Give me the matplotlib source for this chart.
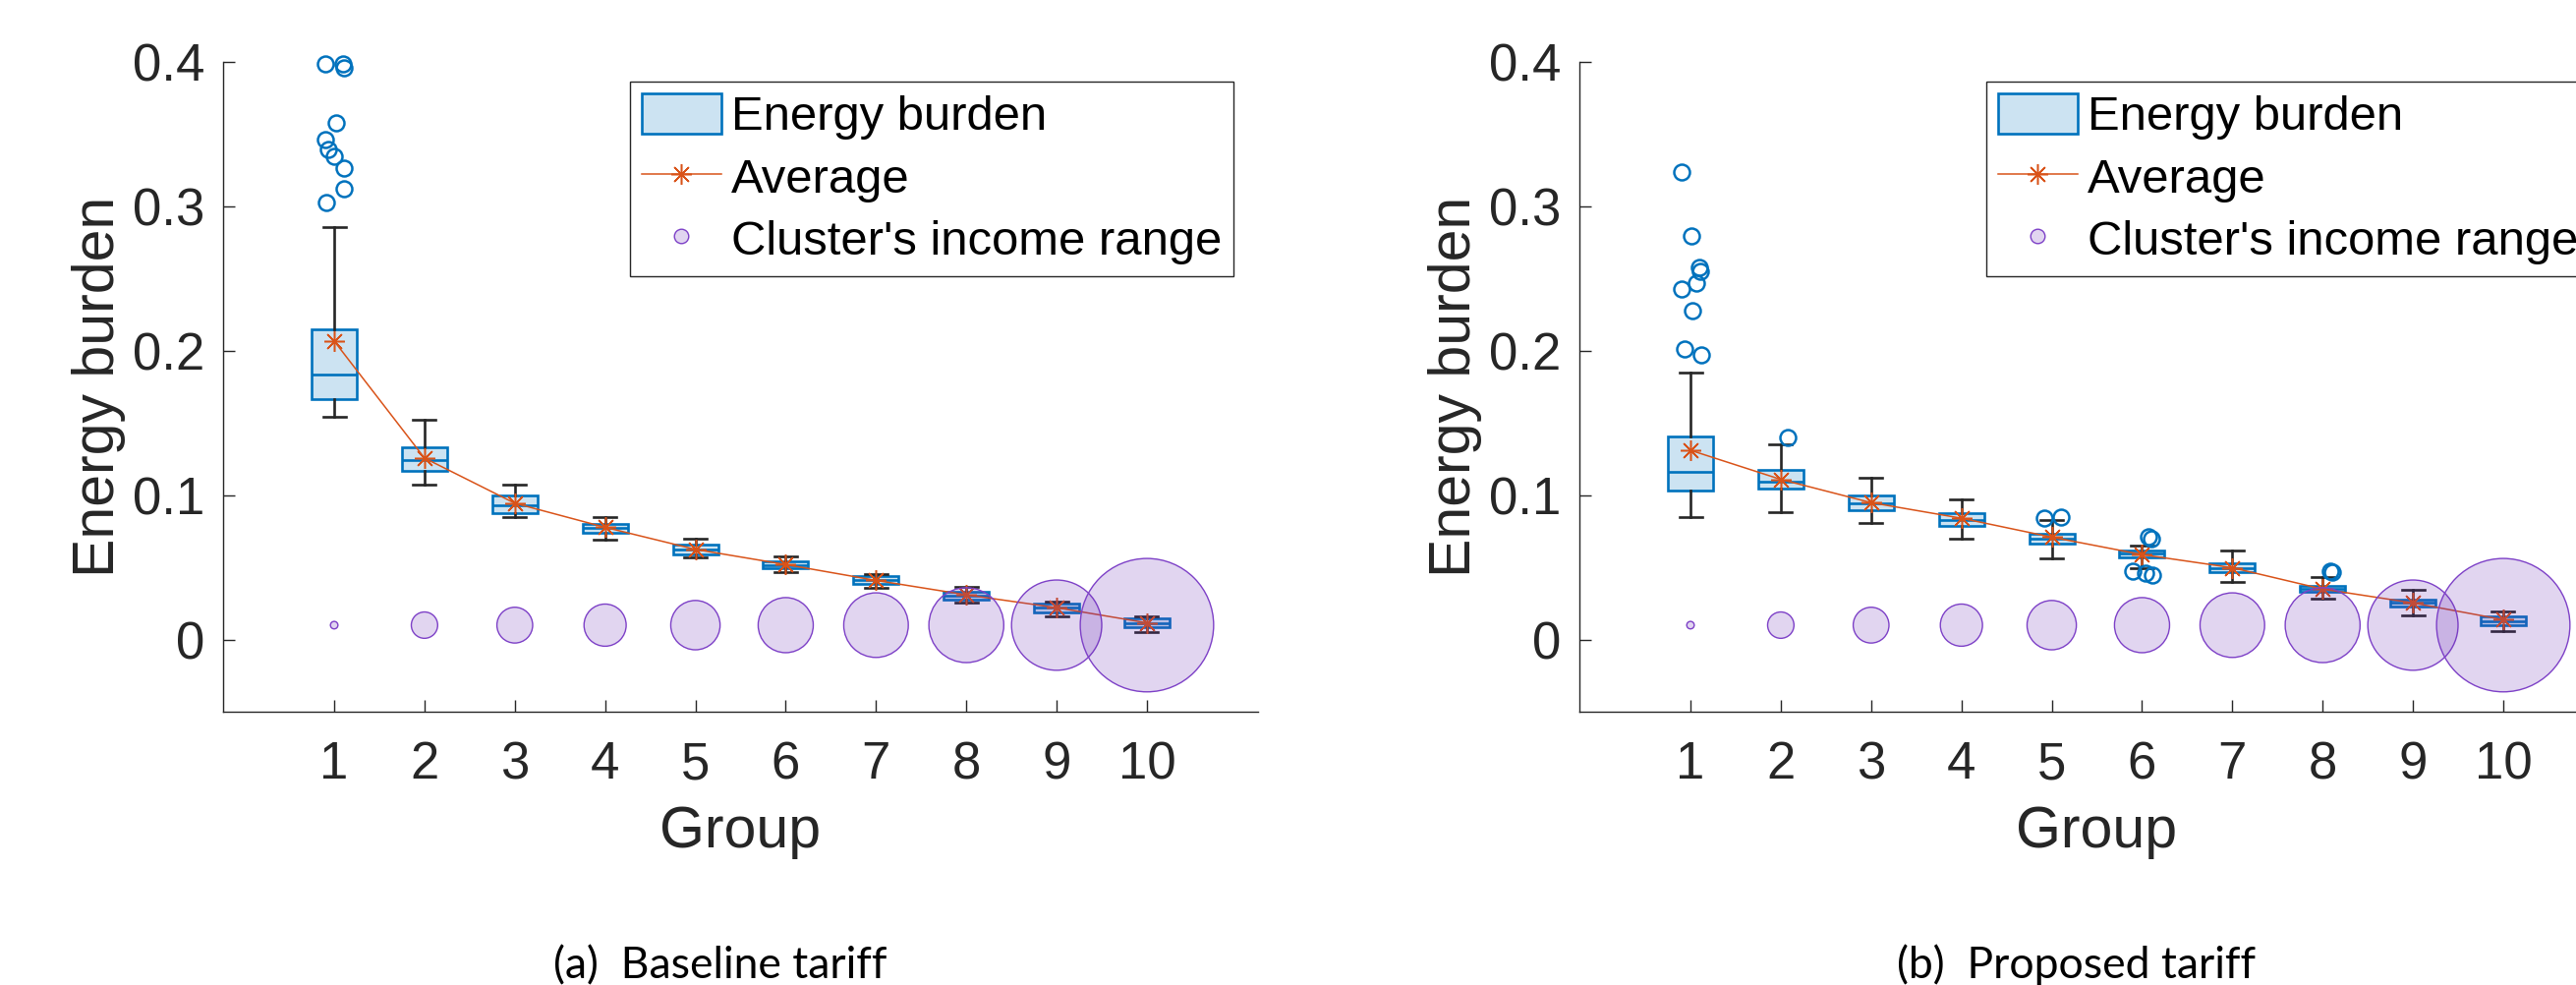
import matplotlib
matplotlib.use("Agg")
import matplotlib.pyplot as plt
from matplotlib.patches import Patch
from matplotlib.lines import Line2D
import numpy as np

plt.rcParams['font.family'] = ['Liberation Sans', 'DejaVu Sans']

# ---------------- data ----------------
groups = [1, 2, 3, 4, 5, 6, 7, 8, 9, 10]
ytick_vals = [0, 0.1, 0.2, 0.3, 0.4]
ytick_labels = ['0', '0.1', '0.2', '0.3', '0.4']

# (a) Baseline tariff
q1_a = [0.1665, 0.1167, 0.0875, 0.0741, 0.0590, 0.0495, 0.0385, 0.0276, 0.0191, 0.0085]
med_a = [0.1835, 0.1243, 0.0930, 0.0772, 0.0625, 0.0518, 0.0410, 0.0305, 0.0219, 0.0114]
q3_a = [0.2151, 0.1334, 0.0997, 0.0802, 0.0656, 0.0540, 0.0437, 0.0332, 0.0248, 0.0144]
wlo_a = [0.1544, 0.1076, 0.0848, 0.0693, 0.0571, 0.0465, 0.0357, 0.0257, 0.0162, 0.0055]
whi_a = [0.2860, 0.1522, 0.1076, 0.0851, 0.0700, 0.0575, 0.0457, 0.0362, 0.0266, 0.0158]
mean_a = [0.2069, 0.1258, 0.0945, 0.0778, 0.0625, 0.0520, 0.0410, 0.0310, 0.0221, 0.0116]
out_grp_a = [1, 1, 1, 1, 1, 1, 1, 1, 1, 1]
out_val_a = [0.3990, 0.3990, 0.3965, 0.3580, 0.3468, 0.3398, 0.3352, 0.3270, 0.3127, 0.3027]
out_jit_a = [-0.10, 0.10, 0.11, 0.02, -0.10, -0.07, 0.00, 0.11, 0.11, -0.09]

# (b) Proposed tariff
q1_b = [0.1035, 0.1046, 0.0895, 0.0790, 0.0667, 0.0567, 0.0466, 0.0328, 0.0228, 0.0097]
med_b = [0.1159, 0.1097, 0.0944, 0.0828, 0.0702, 0.0594, 0.0498, 0.0350, 0.0254, 0.0128]
q3_b = [0.1406, 0.1177, 0.0997, 0.0876, 0.0734, 0.0614, 0.0530, 0.0373, 0.0280, 0.0160]
wlo_b = [0.0849, 0.0882, 0.0806, 0.0702, 0.0565, 0.0495, 0.0396, 0.0282, 0.0171, 0.0060]
whi_b = [0.1850, 0.1355, 0.1124, 0.0973, 0.0831, 0.0653, 0.0618, 0.0432, 0.0346, 0.0196]
mean_b = [0.1312, 0.1110, 0.0949, 0.0841, 0.0710, 0.0589, 0.0498, 0.0350, 0.0254, 0.0138]
out_grp_b = [1, 1, 1, 1, 1, 1, 1, 1, 1, 2, 5, 5, 6, 6, 6, 6, 6, 8, 8]
out_val_b = [0.3242, 0.2800, 0.2578, 0.2551, 0.2468, 0.2433, 0.2282, 0.2011, 0.1973,
             0.1400, 0.0844, 0.0849, 0.0715, 0.0696, 0.0477, 0.0459, 0.0450, 0.0477, 0.0468]
out_jit_b = [-0.10, 0.01, 0.10, 0.11, 0.07, -0.10, 0.025, -0.07, 0.115,
             0.08, -0.08, 0.10, 0.07, 0.10, -0.10, 0.04, 0.12, 0.08, 0.11]

# Cluster's income range (bubble size, relative units), bubbles drawn at y = 0.01
income_range = [0.0, 3.6, 6.9, 9.7, 13.4, 16.8, 23.2, 31.3, 45.6, 100.0]
bubble_y = [0.01] * 10

panels = [
    dict(q1=q1_a, med=med_a, q3=q3_a, wlo=wlo_a, whi=whi_a, mean=mean_a,
         og=out_grp_a, ov=out_val_a, oj=out_jit_a, caption='(a)  Baseline tariff'),
    dict(q1=q1_b, med=med_b, q3=q3_b, wlo=wlo_b, whi=whi_b, mean=mean_b,
         og=out_grp_b, ov=out_val_b, oj=out_jit_b, caption='(b)  Proposed tariff'),
]

# ---------------- style ----------------
W, H = 2621, 1002
BOX_EDGE = '#0072BD'
BOX_FACE = '#CCE3F2'
WHISK = '#262626'
MEAN_C = '#D95319'
BUB_FACE = (0.41, 0.175, 0.705, 0.2)
BUB_EDGE = (0.49, 0.25, 0.78, 1.0)
AX_C = '#262626'
DMIN_PT, DMAX_PT = 5.5, 97.7

fig = plt.figure(figsize=(W / 100, H / 100), dpi=100)

ax_left_px = [227, 1607]
ax_top, ax_w, ax_h = 63.5, 1053, 660.5
caption_x = [733, 2113]

ir = np.array(income_range)
area = DMIN_PT ** 2 + (ir - ir.min()) / (ir.max() - ir.min()) * (DMAX_PT ** 2 - DMIN_PT ** 2)

for p, lpx, cx in zip(panels, ax_left_px, caption_x):
    ax = fig.add_axes([lpx / W, 1 - (ax_top + ax_h) / H, ax_w / W, ax_h / H])

    stats = []
    for i in range(len(groups)):
        stats.append(dict(med=p['med'][i], q1=p['q1'][i], q3=p['q3'][i],
                          whislo=p['wlo'][i], whishi=p['whi'][i], fliers=[]))
    ax.bxp(stats, positions=groups, widths=0.5, capwidths=0.25, patch_artist=True,
           showfliers=False, manage_ticks=False,
           boxprops=dict(facecolor=BOX_FACE, edgecolor=BOX_EDGE, linewidth=1.9),
           medianprops=dict(color=BOX_EDGE, linewidth=1.9),
           whiskerprops=dict(color=WHISK, linewidth=1.9),
           capprops=dict(color=WHISK, linewidth=1.9))

    ox = np.array(p['og']) + np.array(p['oj'])
    ax.plot(ox, p['ov'], ls='none', marker='o', ms=11.5, mfc='none', mec=BOX_EDGE,
            mew=1.8, clip_on=False, zorder=3)

    ax.plot(groups, p['mean'], color=MEAN_C, lw=1.1, marker=(8, 2, 0), ms=15,
            mew=1.1, zorder=4)

    ax.scatter(groups, bubble_y, s=area, facecolors=[BUB_FACE], edgecolors=[BUB_EDGE],
               linewidths=1.0, zorder=5)

    ax.set_xlim(-0.23, 11.23)
    ax.set_ylim(-0.05, 0.4)
    ax.set_xticks(groups)
    ax.set_xticklabels([str(g) for g in groups])
    ax.set_yticks(ytick_vals)
    ax.set_yticklabels(ytick_labels)
    for s in ['top', 'right']:
        ax.spines[s].set_visible(False)
    for s in ['left', 'bottom']:
        ax.spines[s].set_color(AX_C)
        ax.spines[s].set_linewidth(1.0)
    ax.tick_params(axis='both', direction='in', length=8.5, width=1.0, colors=AX_C,
                   labelsize=38)
    ax.tick_params(axis='x', pad=21)
    ax.tick_params(axis='y', pad=13.5)

    ax.set_xlabel('Group', fontsize=42.5, color=AX_C)
    ax.xaxis.set_label_coords(0.5, -(862 - (ax_top + ax_h)) / ax_h)
    ax.xaxis.label.set_va('baseline')
    ax.set_ylabel('Energy burden', fontsize=42.5, color=AX_C)
    ax.yaxis.set_label_coords((116 - 227) / ax_w, 0.5)
    ax.yaxis.label.set_va('baseline')

    handles = [Patch(facecolor=BOX_FACE, edgecolor=BOX_EDGE, linewidth=1.9),
               Line2D([], [], color=MEAN_C, lw=1.1, marker=(8, 2, 0), ms=15, mew=1.1),
               Line2D([], [], ls='none', marker='o', ms=10.5, mfc=BUB_FACE, mec=BUB_EDGE, mew=1.0)]
    labels = ['Energy burden', 'Average', "Cluster's income range"]
    leg = ax.legend(handles, labels, loc='upper left', bbox_to_anchor=(0.3932, 0.9705),
                    borderaxespad=0, fontsize=35.3, frameon=True, fancybox=False,
                    edgecolor=AX_C, framealpha=1, handlelength=1.66, handleheight=0.92,
                    handletextpad=0.2, borderpad=0.24, labelspacing=0.32, numpoints=1)
    leg.get_frame().set_linewidth(1.0)

    fig.text(cx / W, 1 - 995 / H, p['caption'], ha='center', va='baseline',
             family=['Lato', 'DejaVu Sans'], fontsize=32, color='black')

fig.savefig('out.png', dpi=100)
